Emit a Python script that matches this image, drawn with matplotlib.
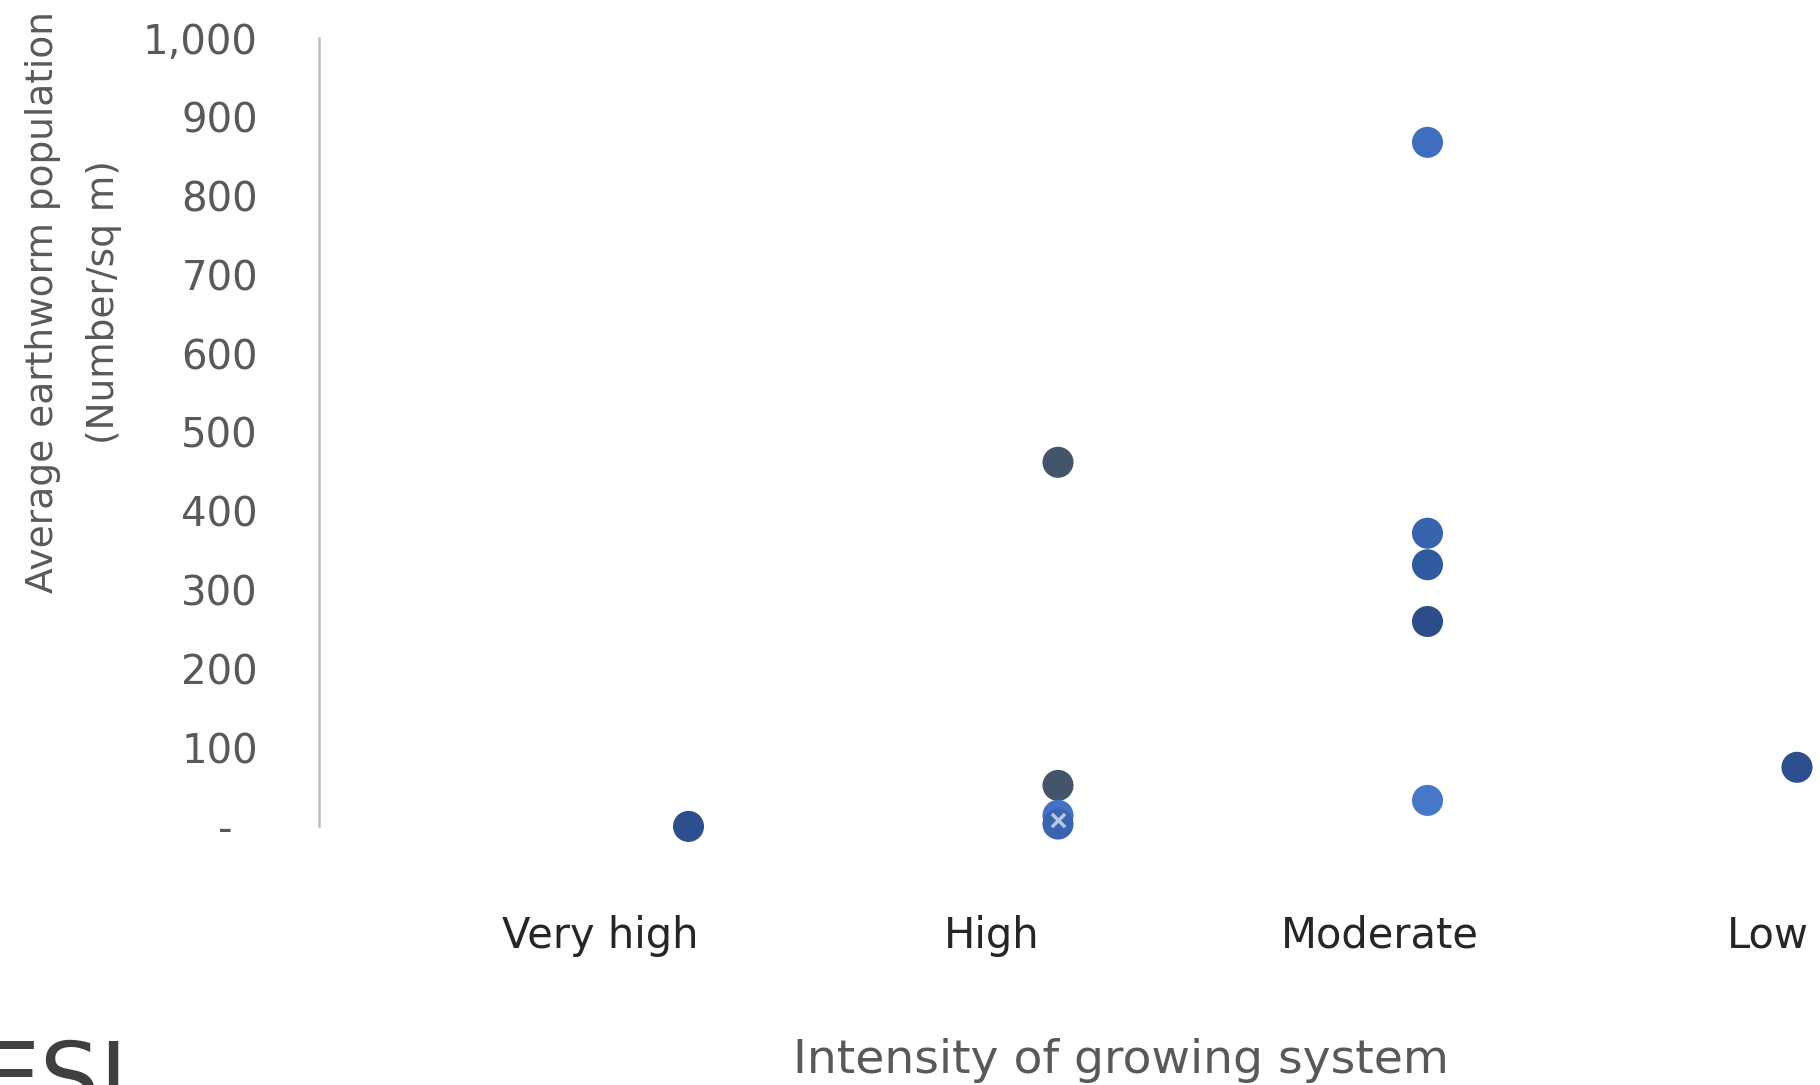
import matplotlib.pyplot as plt
from matplotlib.ticker import FixedLocator, FixedFormatter

# --- data ---
categories = ["Very high", "High", "Moderate", "Low"]
point_cat = [1, 2, 2, 2, 2, 3, 3, 3, 3, 3, 4]
point_val = [0, 462, 52, 14, 3, 868, 372, 332, 260, 33, 75]
y_ticks = [0, 100, 200, 300, 400, 500, 600, 700, 800, 900, 1000]

# styling
point_colors = ["#2E4F8E", "#44546A", "#44546A", "#4472C4", "#3A63B0",
                "#3F6EBF", "#3864AD", "#315A9E", "#2C4D8A", "#4777C9", "#2E4F8E"]
label_x = [0.76, 1.82, 2.87, 3.92]
grey = "#595959"

W, H = 1820, 1085
fig = plt.figure(figsize=(W / 100, H / 100), dpi=100)
ax = fig.add_axes([319 / W, (H - 826.4) / H, 1 - 319 / W, (826.4 - 38.3) / H])

ax.scatter(point_cat, point_val, s=500, c=point_colors, edgecolors="none",
           zorder=3, clip_on=False)
# small light cross visible inside the overlapping low points at "High"
ax.scatter([2], [8], s=90, marker="x", c="#B4C7E7", linewidths=2.5,
           zorder=4, clip_on=False)

ax.set_xlim(0, (W - 319) / 369.5)
ax.set_ylim(0, 1000)

for side in ["top", "right", "bottom"]:
    ax.spines[side].set_visible(False)
ax.spines["left"].set_color("#BFBFBF")
ax.spines["left"].set_linewidth(1.8)

ax.set_xticks([])
ax.yaxis.set_major_locator(FixedLocator(y_ticks))
ax.yaxis.set_major_formatter(FixedFormatter(
    ["-  "] + [f"{v:,}" for v in y_ticks[1:]]))
ax.tick_params(axis="y", length=0, pad=44, labelsize=29, labelcolor=grey)

# category labels under the axis
for x, name in zip(label_x, categories):
    ax.text(x, -154, name, ha="center", va="baseline", fontsize=30,
            color="#262626", clip_on=False)

# axis titles
fig.text(43 / W, 1 - 302 / H, "Average earthworm population", rotation=90,
         ha="center", va="center", fontsize=27, color=grey)
fig.text(104 / W, 1 - 302 / H, "(Number/sq m)", rotation=90,
         ha="center", va="center", fontsize=27, color=grey)
fig.text(1121 / W, 12 / H, "Intensity of growing system", ha="center",
         va="baseline", fontsize=34, color=grey)

# partial logo at bottom left
fig.text(128 / W, -25 / H, "ESI", ha="right", va="baseline", fontsize=68,
         color="#3F3F3F")

fig.savefig("out.png", dpi=100)
